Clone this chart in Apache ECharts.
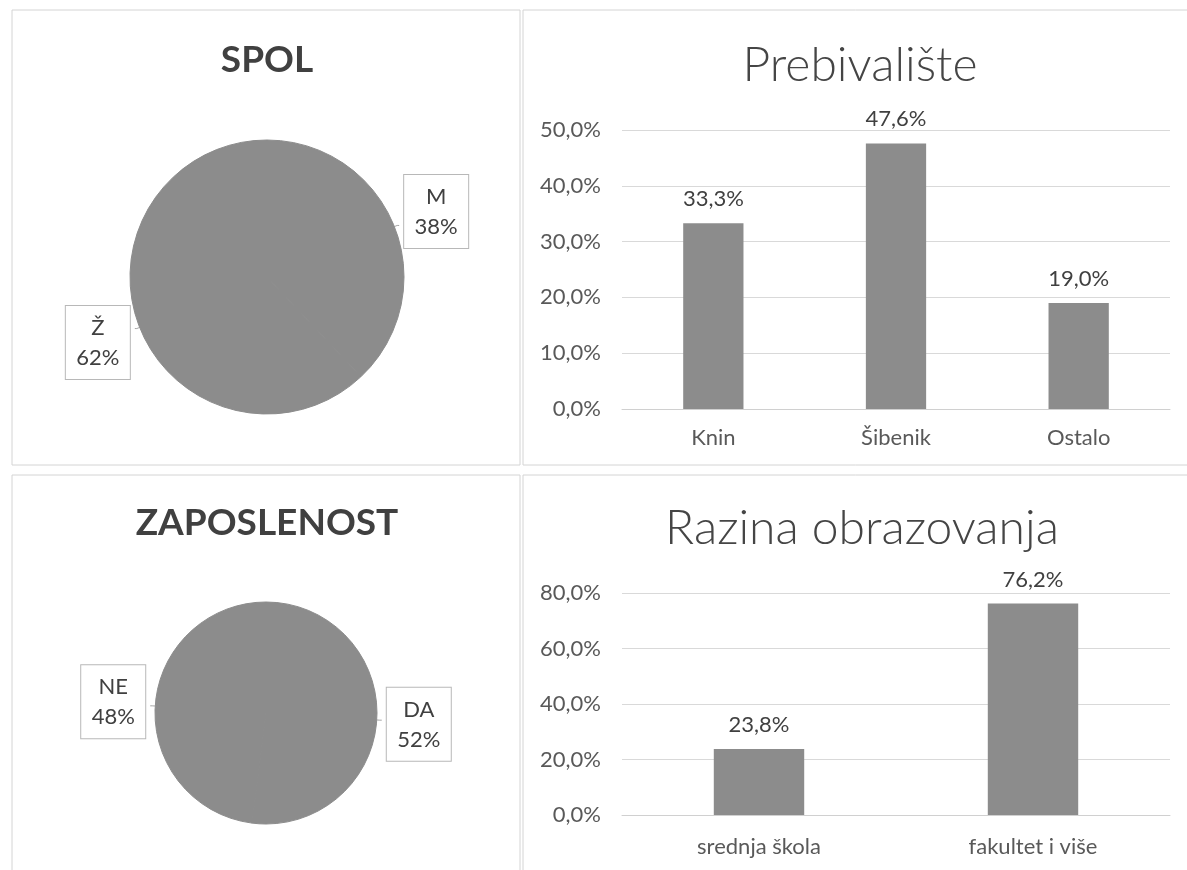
<!DOCTYPE html>
<html>
<head>
<meta charset="utf-8">
<script src="https://cdn.jsdelivr.net/npm/echarts@6/dist/echarts.min.js"></script>
<style>
html,body{margin:0;padding:0;background:#fff;}
#c{width:1187px;height:870px;}
</style>
</head>
<body>
<div id="c"></div>
<script>
// ---- data ----
const spolTitle = 'SPOL';
const spolNames = ['M', 'Ž'];
const spolValues = [38, 62];

const zapTitle = 'ZAPOSLENOST';
const zapNames = ['DA', 'NE'];
const zapValues = [52, 48];

const prebTitle = 'Prebivalište';
const prebCategories = ['Knin', 'Šibenik', 'Ostalo'];
const prebValues = [33.3, 47.6, 19.0];
const prebAxis = { min: 0, max: 50, interval: 10 };

const obrTitle = 'Razina obrazovanja';
const obrCategories = ['srednja škola', 'fakultet i više'];
const obrValues = [23.8, 76.2];
const obrAxis = { min: 0, max: 80, interval: 20 };

// ---- styling ----
const FONT = 'Lato, "Open Sans", sans-serif';
const GRAY = '#8c8c8c';
const TXT = '#404040';
const pct = v => v.toFixed(1).replace('.', ',') + '%';

const chart = echarts.init(document.getElementById('c'), null, { renderer: 'canvas' });

function pieSeries(names, values, center, radius, shifts) {
  return {
    type: 'pie',
    center: center,
    radius: radius,
    startAngle: 90,
    clockwise: true,
    silent: true,
    animation: false,
    data: names.map((n, i) => ({ name: n, value: values[i] })),
    itemStyle: { color: GRAY, borderColor: GRAY, borderWidth: 1 },
    label: {
      show: true,
      position: 'outside',
      formatter: '{t|{b}}\n{t|{c}%}',
      backgroundColor: '#fff',
      borderColor: '#b8b8b8',
      borderWidth: 1,
      padding: [7, 10, 6, 10],
      rich: {
        t: { fontFamily: FONT, fontSize: 22, color: TXT, lineHeight: 30, width: 44, align: 'center' }
      }
    },
    labelLine: { show: true, length: 3, length2: 2, lineStyle: { color: '#a6a6a6', width: 1 } },
    labelLayout: function (p) { return { dy: shifts[p.dataIndex] }; }
  };
}

function barAxisLabel() {
  return { fontFamily: FONT, fontSize: 22, color: '#595959' };
}

const option = {
  backgroundColor: '#fff',
  animation: false,
  graphic: [
    { type: 'rect', shape: { x: 12, y: 10, width: 508, height: 455 }, style: { fill: 'none', stroke: '#d4d4d4', lineWidth: 1 } },
    { type: 'rect', shape: { x: 523, y: 10, width: 700, height: 455 }, style: { fill: 'none', stroke: '#d4d4d4', lineWidth: 1 } },
    { type: 'rect', shape: { x: 12, y: 475, width: 508, height: 420 }, style: { fill: 'none', stroke: '#d4d4d4', lineWidth: 1 } },
    { type: 'rect', shape: { x: 523, y: 475, width: 700, height: 420 }, style: { fill: 'none', stroke: '#d4d4d4', lineWidth: 1 } },
    { type: 'text', x: 267, y: 60, style: { text: spolTitle, font: 'bold 37px ' + FONT, fill: TXT, textAlign: 'center', textVerticalAlign: 'middle' } },
    { type: 'text', x: 267, y: 523, style: { text: zapTitle, font: 'bold 37px ' + FONT, fill: TXT, textAlign: 'center', textVerticalAlign: 'middle' } },
    { type: 'text', x: 860, y: 66, style: { text: prebTitle, font: '300 48px ' + FONT, fill: '#454545', textAlign: 'center', textVerticalAlign: 'middle' } },
    { type: 'text', x: 862, y: 529, style: { text: obrTitle, font: '300 48px ' + FONT, fill: '#454545', textAlign: 'center', textVerticalAlign: 'middle' } }
  ],
  grid: [
    { left: 622, right: 17, top: 130, bottom: 461, containLabel: false },
    { left: 622, right: 17, top: 593, bottom: 55, containLabel: false }
  ],
  xAxis: [
    {
      gridIndex: 0, type: 'category', data: prebCategories,
      axisLine: { show: true, lineStyle: { color: '#d0d0d0' } },
      axisTick: { show: false },
      axisLabel: Object.assign(barAxisLabel(), { margin: 18 })
    },
    {
      gridIndex: 1, type: 'category', data: obrCategories,
      axisLine: { show: true, lineStyle: { color: '#d0d0d0' } },
      axisTick: { show: false },
      axisLabel: Object.assign(barAxisLabel(), { margin: 21 })
    }
  ],
  yAxis: [
    {
      gridIndex: 0, type: 'value', min: prebAxis.min, max: prebAxis.max, interval: prebAxis.interval,
      axisLine: { show: false }, axisTick: { show: false },
      splitLine: { lineStyle: { color: '#d9d9d9' } },
      axisLabel: Object.assign(barAxisLabel(), { margin: 21, formatter: v => pct(v) })
    },
    {
      gridIndex: 1, type: 'value', min: obrAxis.min, max: obrAxis.max, interval: obrAxis.interval,
      axisLine: { show: false }, axisTick: { show: false },
      splitLine: { lineStyle: { color: '#d9d9d9' } },
      axisLabel: Object.assign(barAxisLabel(), { margin: 21, formatter: v => pct(v) })
    }
  ],
  series: [
    pieSeries(spolNames, spolValues, [267, 277], 137, [-14, 14]),
    pieSeries(zapNames, zapValues, [266, 713], 111, [4, -4]),
    {
      type: 'bar', xAxisIndex: 0, yAxisIndex: 0, data: prebValues,
      barWidth: '33%', itemStyle: { color: GRAY },
      label: { show: true, position: 'top', distance: 13, fontFamily: FONT, fontSize: 22, color: TXT, formatter: p => pct(p.value) }
    },
    {
      type: 'bar', xAxisIndex: 1, yAxisIndex: 1, data: obrValues,
      barWidth: '33%', itemStyle: { color: GRAY },
      label: { show: true, position: 'top', distance: 13, fontFamily: FONT, fontSize: 22, color: TXT, formatter: p => pct(p.value) }
    }
  ]
};
chart.setOption(option);
</script>
</body>
</html>
